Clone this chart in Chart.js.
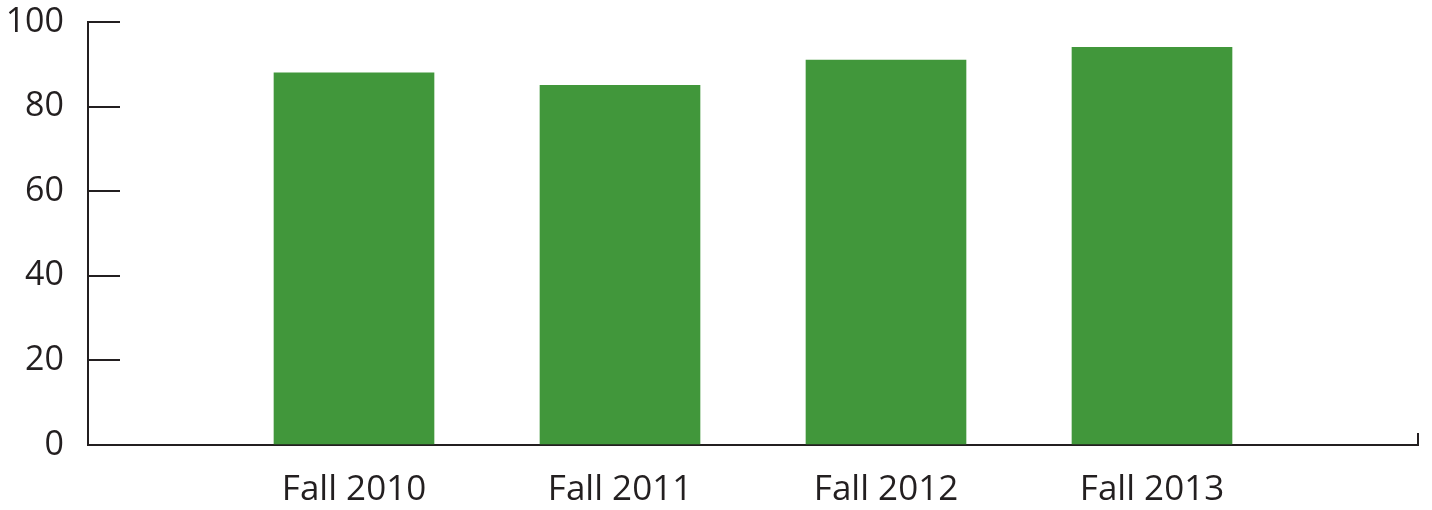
<!DOCTYPE html>
<html>
<head>
<meta charset="utf-8">
<script src="https://cdn.jsdelivr.net/npm/chart.js@4"></script>
<style>
  html, body { margin: 0; padding: 0; background: #fff; }
  #wrap { width: 1432px; height: 510px; }
</style>
</head>
<body>
<div id="wrap"><canvas id="chart"></canvas></div>
<script>
// empty slots at both ends so the bars sit one step in from each axis end
const categories = ['', 'Fall 2010', 'Fall 2011', 'Fall 2012', 'Fall 2013', '']
const values = [null, 88, 85, 91, 94, null]
const yTicks = [0, 20, 40, 60, 80, 100]

const ink = '#231f20'
const green = '#41973b'

// label padding is big here (ticks drawn inwards), so drop the overhang it adds
function noOverhang(scale) {
  scale.paddingTop = 0
  scale.paddingBottom = 0
  scale.paddingLeft = 0
  scale.paddingRight = 0
}

function generateDataSet(labels, data) {
  return {
    type: 'bar',
    data: {
      labels: labels,
      datasets: [
        {
          label: 'Fall',
          data: data,
          backgroundColor: green,
          borderWidth: 0,
          barThickness: 160
        }
      ]
    },
    options: {
      responsive: true,
      maintainAspectRatio: false,
      animation: false,
      layout: { padding: { top: 22, right: 14, left: 0, bottom: 0 } },
      plugins: {
        legend: { display: false },
        tooltip: { enabled: false }
      },
      scales: {
        x: {
          type: 'category',
          offset: false,
          grid: {
            offset: false,
            drawOnChartArea: false,
            drawTicks: true,
            tickLength: -12,
            lineWidth: 2,
            color: ctx => ctx.index === categories.length - 1 ? ink : 'rgba(0,0,0,0)'
          },
          border: { display: true, color: ink, width: 2 },
          ticks: {
            color: ink,
            font: { family: 'Open Sans', size: 35 },
            padding: 36,
            maxRotation: 0,
            autoSkip: false
          },
          afterFit: scale => { scale.height = 65; noOverhang(scale) }
        },
        y: {
          min: 0,
          max: 100,
          afterBuildTicks: scale => { scale.ticks = yTicks.map(v => ({ value: v })) },
          grid: {
            drawOnChartArea: false,
            drawTicks: true,
            tickLength: -32,
            lineWidth: 2,
            color: ink
          },
          border: { display: true, color: ink, width: 2 },
          ticks: {
            color: ink,
            font: { family: 'Open Sans', size: 34 },
            padding: 56
          },
          afterFit: scale => { scale.width = 88; noOverhang(scale) }
        }
      }
    }
  }
}

const canvas = document.getElementById('chart')
const barChart = new Chart(canvas, generateDataSet(categories, values))
</script>
</body>
</html>
